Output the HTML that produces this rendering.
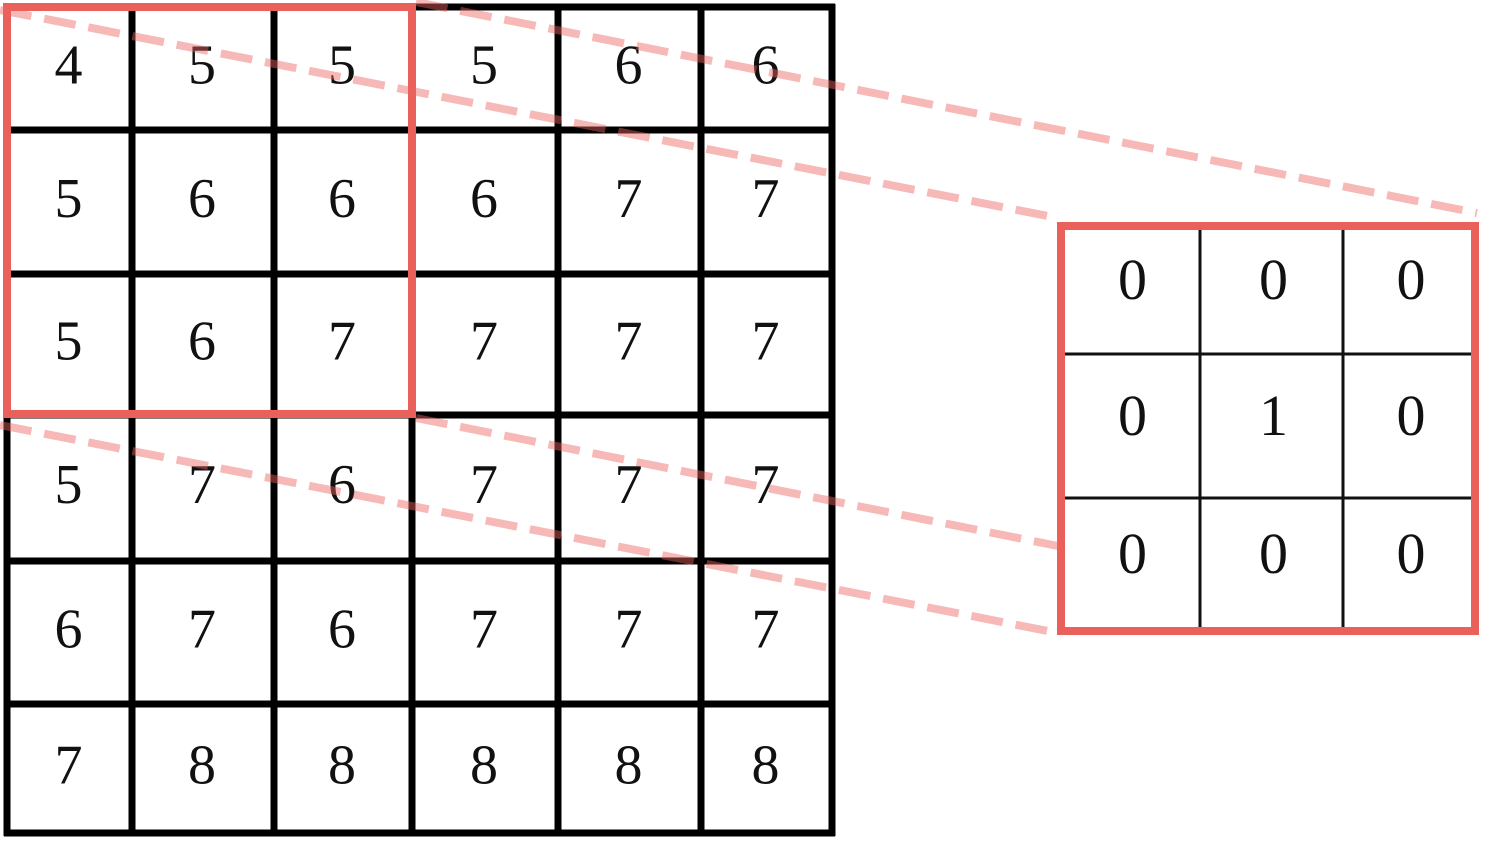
<!DOCTYPE html>
<html><head><meta charset="utf-8"><style>
html,body{margin:0;padding:0;background:#fff;}
svg{display:block;}
text{font-family:"Liberation Serif",serif;}
</style></head><body>
<svg id="fig" width="1494" height="844" viewBox="0 0 1494 844" xmlns="http://www.w3.org/2000/svg"></svg>
<script>
const inputValues = [
  [4,5,5,5,6,6],
  [5,6,6,6,7,7],
  [5,6,7,7,7,7],
  [5,7,6,7,7,7],
  [6,7,6,7,7,7],
  [7,8,8,8,8,8]
];
const kernelValues = [
  [0,0,0],
  [0,1,0],
  [0,0,0]
];
const NS='http://www.w3.org/2000/svg';
const svg=document.getElementById('fig');
function mk(tag,attrs,parent){const e=document.createElementNS(NS,tag);for(const k in attrs)e.setAttribute(k,attrs[k]);(parent||svg).appendChild(e);return e;}

// input grid
const gx=[7,132,274,412,558,701,832];
const gy=[7,130,274,415,561,704,833];
const gIn=mk('g',{});


inputValues.forEach((row,r)=>row.forEach((v,c)=>{
  const t=mk('text',{x:(gx[c]+gx[c+1])/2-1,y:(gy[r]+gy[r+1])/2+15,'font-size':56,'text-anchor':'middle',fill:'#111'},gIn);
  t.textContent=v;
  
  
}));
gx.forEach(x=>mk('line',{x1:x,y1:4,x2:x,y2:836,stroke:'#000','stroke-width':7},gIn));
gy.forEach(y=>mk('line',{x1:4,y1:y,x2:835,y2:y,stroke:'#000','stroke-width':7},gIn));

// kernel grid
const kx=[1061,1200,1343,1475];
const ky=[226,354,498,630];
const gK=mk('g',{});


kernelValues.forEach((row,r)=>row.forEach((v,c)=>{
  const t=mk('text',{x:(kx[c]+kx[c+1])/2+2,y:(ky[r]+ky[r+1])/2+9,'font-size':58,'text-anchor':'middle',fill:'#111'},gK);
  t.textContent=v;
  
  
}));
[1200,1343].forEach(x=>mk('line',{x1:x,y1:226,x2:x,y2:630,stroke:'#111','stroke-width':3},gK));
[354,498].forEach(y=>mk('line',{x1:1061,y1:y,x2:1475,y2:y,stroke:'#111','stroke-width':3},gK));
const kr=mk('rect',{x:1061,y:226,width:414,height:405,fill:'none',stroke:'#ea615c','stroke-width':8},gK);



// highlight window
const hw=mk('rect',{x:7,y:7,width:405,height:407,fill:'none',stroke:'#ea615c','stroke-width':8});



// dashed projection lines
const dl=[[0,10,1058,218],[416,2,1477,213],[0,425,1058,633],[416,418,1058,546]];
dl.forEach(d=>{
  const l=mk('line',{x1:d[0],y1:d[1],x2:d[2],y2:d[3],stroke:'rgba(236,100,95,0.45)','stroke-width':8,'stroke-dasharray':'32 13'});
  
  
});
</script>
</body></html>
